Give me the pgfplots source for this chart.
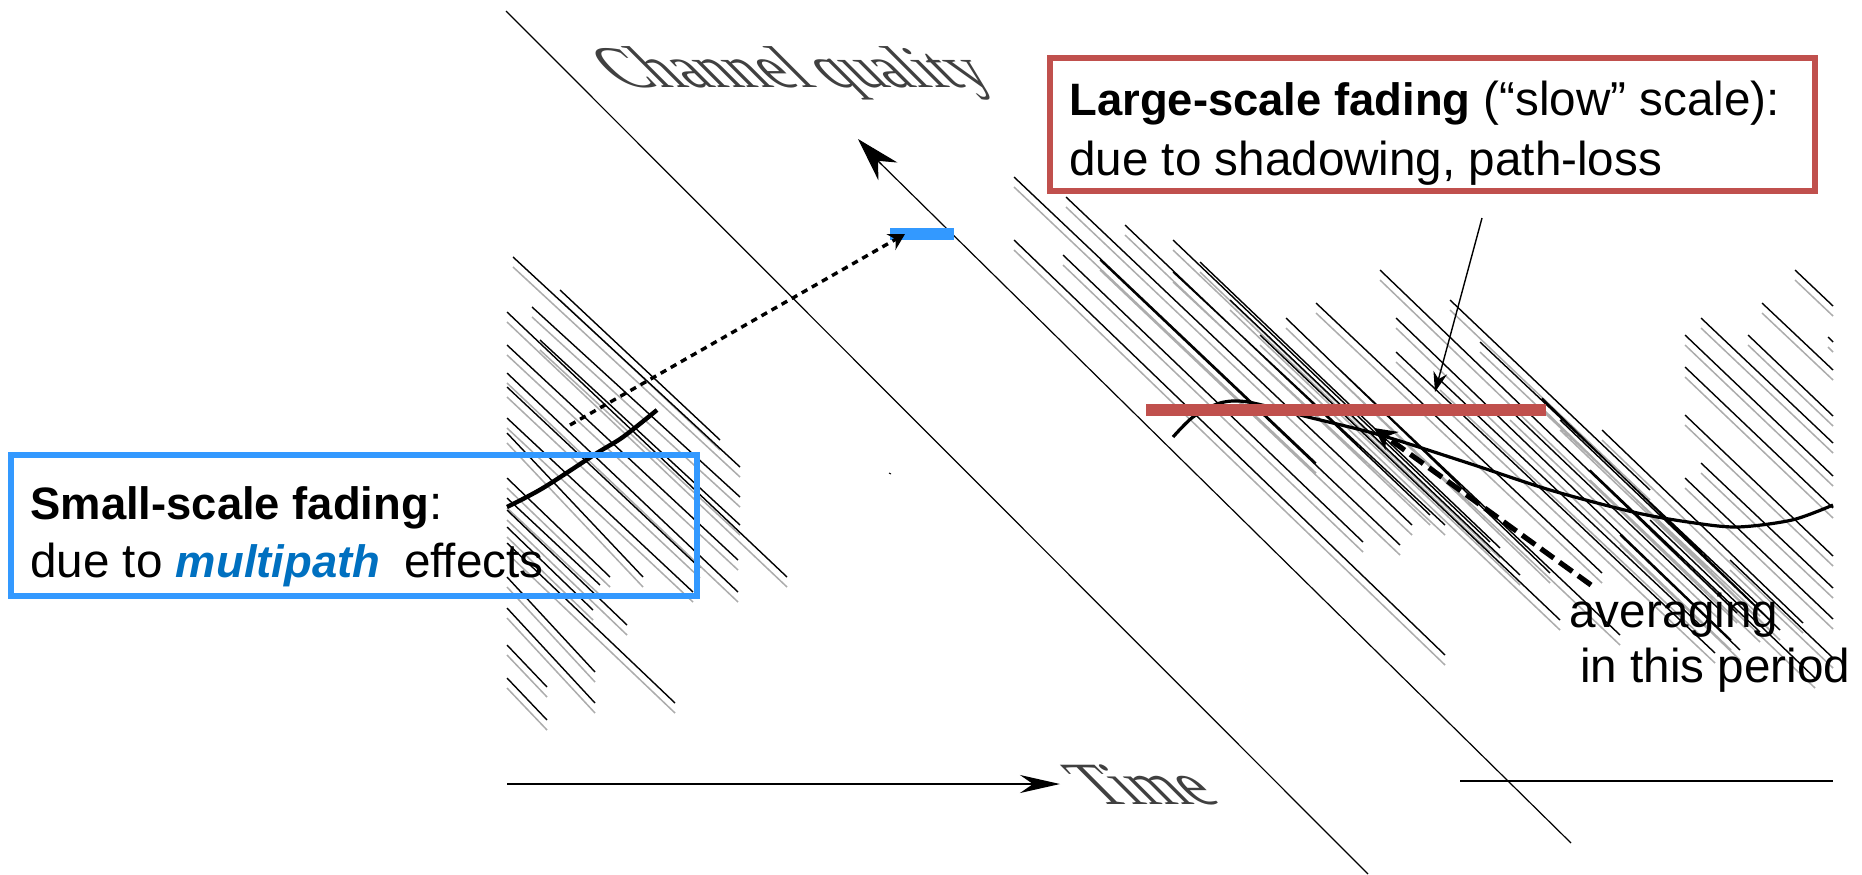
\documentclass[border=0pt]{standalone}
\usepackage{pgfplots}
\pgfplotsset{compat=1.18}
\usepackage{pgfplotstable}
\usepackage{fontspec}
\setmainfont{Liberation Sans}
\newfontfamily\serifx{Liberation Serif}
\usetikzlibrary{arrows.meta}
\definecolor{boxblue}{HTML}{3399FF}
\definecolor{boxred}{HTML}{C0504D}
\definecolor{multi}{HTML}{0070C0}
\newcommand{\bt}[1]{{\fontsize{22.7}{25}\selectfont\bfseries #1}}
\pgfplotstableread{
x y
513 257
740 467
nan nan
532 307
740 497
nan nan
507 312
787 577
nan nan
507 345
738 560
nan nan
507 373
738 592
nan nan
507 387
700 568
nan nan
507 418
693 592
nan nan
507 433
643 577
nan nan
507 478
610 577
nan nan
507 510
627 625
nan nan
507 543
675 703
nan nan
507 577
595 672
nan nan
507 608
595 703
nan nan
507 645
547 687
nan nan
507 678
547 720
nan nan
560 290
720 440
nan nan
540 340
740 525
nan nan
507 498
600 585
nan nan
507 527
593 610
nan nan
1014 177
1316 463
nan nan
1066 197
1412 525
nan nan
1014 240
1445 655
nan nan
1063 255
1363 542
nan nan
1173 240
1490 542
nan nan
1173 272
1445 525
nan nan
1316 303
1602 573
nan nan
1286 318
1550 573
nan nan
1396 352
1715 653
nan nan
1396 318
1731 640
nan nan
1380 270
1737 613
nan nan
1542 398
1770 620
nan nan
1602 430
1803 623
nan nan
1685 335
1833 476
nan nan
1701 318
1833 443
nan nan
1748 335
1833 416
nan nan
1685 367
1833 508
nan nan
1685 415
1833 556
nan nan
1701 463
1833 588
nan nan
1685 478
1833 619
nan nan
1795 270
1833 306
nan nan
1762 303
1833 370
nan nan
1828 337
1833 342
nan nan
1560 420
1780 630
nan nan
1590 470
1760 632
nan nan
1650 520
1815 678
nan nan
1620 535
1740 650
nan nan
1730 560
1833 658
nan nan
1125 225
1430 515
nan nan
1230 300
1520 575
nan nan
1340 370
1620 635
nan nan
1100 260
1400 545
nan nan
1200 262
1500 548
nan nan
1260 335
1560 620
nan nan
1440 380
1700 625
nan nan
1480 342
1760 606
nan nan
1450 300
1650 490
nan nan
1510 410
1720 610
}\hatch
\begin{document}
\begin{tikzpicture}
\useasboundingbox (0,0) rectangle (931pt,437pt);
\begin{axis}[
  scale only axis, width=931pt, height=437pt,
  xmin=0, xmax=1862, ymin=0, ymax=874, y dir=reverse,
  hide axis, clip=true, unbounded coords=jump,
  every axis plot/.append style={no marks}]
\addplot[gray!65, line width=0.75pt] table[x=x, y expr=\thisrow{y}+10] {\hatch};
\addplot[black, line width=0.7pt] table[x=x, y=y] {\hatch};
% long sheared lines
\addplot[black, line width=0.6pt] coordinates {(506,11) (1368,874)};
\addplot[black, line width=0.6pt] coordinates {(875,158) (1571,843)};
\addplot[black, line width=0.5pt, -{Stealth[length=22pt,width=13pt]}] coordinates {(882,165) (858,139)};
% time axis
\addplot[black, line width=1pt, -{Stealth[length=20pt,width=9pt]}] coordinates {(507,784) (1060,784)};
\addplot[black, line width=1pt] coordinates {(1460,781) (1833,781)};
% small curve
\addplot[black, line width=2.2pt, smooth] coordinates {(507,507) (543,488) (597,453) (623,437) (657,410)};
% large curve
\addplot[black, line width=1.6pt, smooth] coordinates {(1173,437) (1193,417) (1220,403) (1248,402) (1308,417) (1380,435) (1468,463) (1550,490) (1633,512) (1688,522) (1737,527) (1792,520) (1833,505)};
% blue bar and dotted arrow
\addplot[boxblue, line width=6pt] coordinates {(890,234) (954,234)};
\addplot[black, line width=1.7pt, dash pattern=on 3.2pt off 2.6pt, -{Stealth[length=8pt,width=9pt]}] coordinates {(570,425) (905,234)};
% red bar
\addplot[boxred, line width=6pt] coordinates {(1146,410) (1546,410)};
% arrows
\addplot[black, line width=0.7pt, -{Stealth[length=10pt,width=7pt]}] coordinates {(1482,218) (1435,392)};
\addplot[black, line width=2.6pt, dash pattern=on 8pt off 3.5pt, -{Stealth[length=11pt,width=11pt]}] coordinates {(1591,585) (1374,428)};
% boxes
\addplot[boxblue, line width=3pt] coordinates {(11,455) (697,455) (697,596) (11,596) (11,455) (697,455)};
\addplot[boxred, line width=3pt] coordinates {(1050,58) (1815,58) (1815,191) (1050,191) (1050,58) (1815,58)};
\addplot[black, line width=0.5pt] coordinates {(889,473) (891,474)};
% sheared scanned labels
\node[transform shape, xslant=-1, anchor=base west, inner sep=0pt, text=black!75, font=\serifx\fontsize{29.5}{31}\selectfont] at (axis cs:622,87) {Channel quality};
\node[transform shape, xslant=-1, anchor=base west, inner sep=0pt, text=black!75, font=\serifx\fontsize{30}{32}\selectfont] at (axis cs:1098,804) {Time};
% text
\node[anchor=base west, inner sep=0pt, font=\fontsize{23.8}{25}\selectfont] at (axis cs:1069,115) {\bt{Large-scale fading} (“slow” scale):};
\node[anchor=base west, inner sep=0pt, font=\fontsize{23.8}{25}\selectfont] at (axis cs:1069,175) {due to shadowing, path-loss};
\node[anchor=base west, inner sep=0pt, font=\fontsize{23.8}{25}\selectfont] at (axis cs:30,519) {\bt{Small-scale fading}:};
\node[anchor=base west, inner sep=0pt, font=\fontsize{23.8}{25}\selectfont] at (axis cs:30,577) {due to \textcolor{multi}{\bt{\itshape multipath}}\hspace{0.5em}effects};
\node[anchor=base west, inner sep=0pt, font=\fontsize{23.8}{25}\selectfont] at (axis cs:1569,627) {averaging};
\node[anchor=base west, inner sep=0pt, font=\fontsize{23.8}{25}\selectfont] at (axis cs:1580,682) {in this period};
\end{axis}
\end{tikzpicture}
\end{document}
